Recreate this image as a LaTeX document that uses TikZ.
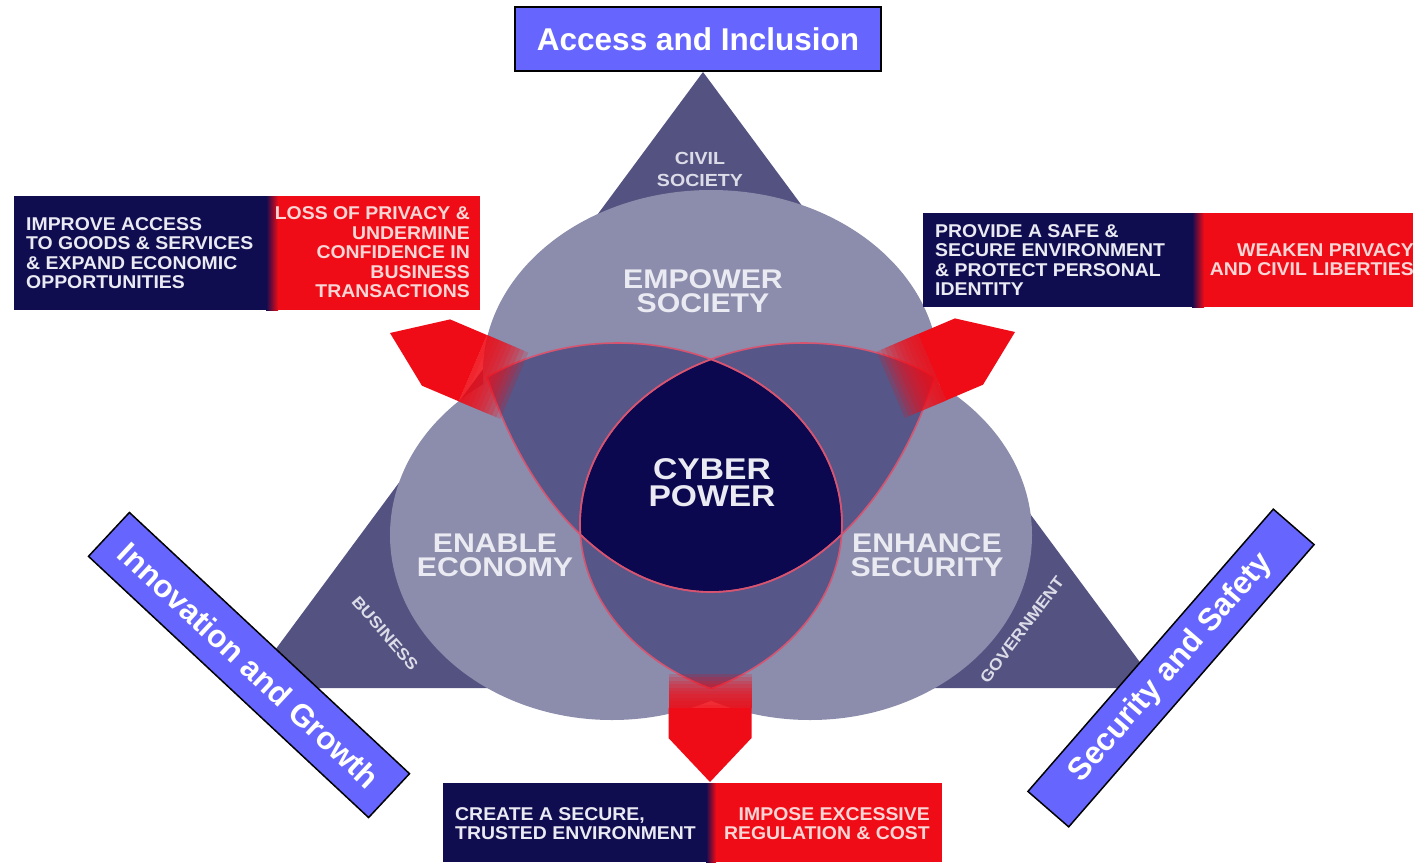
\documentclass[tikz,border=0pt]{standalone}
\usepackage{fontspec}
\setmainfont{Liberation Sans}
\newfontfamily\capsfont[FakeStretch=1.12]{Liberation Sans}
\newfontfamily\boxfont[FakeStretch=1.05]{Liberation Sans}
\usepackage{tikz}
\usetikzlibrary{positioning}

\definecolor{bannerblue}{RGB}{102,102,255}
\definecolor{boxnavy}{RGB}{16,12,80}
\definecolor{boxred}{RGB}{240,12,22}
\definecolor{lobegray}{RGB}{140,140,172}
\definecolor{triangleslate}{RGB}{84,82,128}
\definecolor{lensslate}{RGB}{86,86,136}
\definecolor{corenavy}{RGB}{12,8,80}
\definecolor{rimpink}{RGB}{214,84,112}
\definecolor{paletext}{RGB}{234,234,242}
\definecolor{pinktext}{RGB}{250,214,214}

% red pointer: tip x, tip y, angle, width, head, solid shaft, faded shaft
\newcommand\redpointer[7]{%
  \begin{scope}[shift={(#1,#2)}, rotate=#3]
    \fill[boxred] (0,0) -- (-#5,#4/2) -- (-#5-#6,#4/2) -- (-#5-#6,-#4/2) -- (-#5,-#4/2) -- cycle;
    \foreach \k in {1,...,10}{
      \fill[boxred, fill opacity=0.2] (-#5-#6,#4/2) rectangle ({-#5-#6-\k*#7/10},-#4/2);
    }
  \end{scope}}

\def\ellT{(711,195) ellipse [x radius=252, y radius=397]}
\def\ellL{(618,524) ellipse [x radius=224, y radius=181]}
\def\ellR{(804,524) ellipse [x radius=224, y radius=181]}

\begin{document}
\begin{tikzpicture}
          [x=1pt, y=-1pt,
           banner/.style={draw=black, line width=1.5pt, fill=bannerblue, text=white, inner sep=0pt,
                          font=\bfseries\fontsize{31.5}{36}\selectfont},
           lobelabel/.style={text=paletext, align=center, font=\capsfont\bfseries\fontsize{27}{24}\selectfont},
           smalllabel/.style={text=paletext!85!lobegray, align=center, inner sep=0pt,
                              font=\capsfont\bfseries\fontsize{16}{22}\selectfont},
           boxtext/.style={inner sep=0pt, font=\boxfont\bfseries\fontsize{18.5}{19.5}\selectfont},
           rim/.style={draw=rimpink, line width=1.6pt}]
          \useasboundingbox (0,0) rectangle (1413,865);
          \fill[white] (0,0) rectangle (1413,865);

          % triangle and lobes
          \fill[triangleslate] (703,72) -- (247,688) -- (1159,688) -- cycle;
          \fill[lobegray] (711,372) ellipse [x radius=228, y radius=182];
          \fill[lobegray] (612,535) ellipse [x radius=222, y radius=185];
          \fill[lobegray] (810,535) ellipse [x radius=222, y radius=185];

          % overlaps
          \begin{scope} \clip \ellT; \fill[lensslate] \ellL; \fill[lensslate] \ellR; \end{scope}
          \begin{scope} \clip \ellL; \fill[lensslate] \ellR; \end{scope}
          \begin{scope} \clip \ellT; \clip \ellL; \fill[corenavy] \ellR; \end{scope}
          \begin{scope} \clip \ellT; \draw[rim] \ellL \ellR; \end{scope}
          \begin{scope} \clip \ellL; \draw[rim] \ellT \ellR; \end{scope}
          \begin{scope} \clip \ellR; \draw[rim] \ellT \ellL; \end{scope}

          \redpointer{390}{333}{157}{72}{50}{40}{45}
          \redpointer{1015}{332}{23}{72}{50}{40}{45}
          \redpointer{710}{782}{-90}{83}{44}{30}{34}

          % boxes
          \fill[boxnavy] (14,196) rectangle (266,310);
          \shade[left color=boxnavy, right color=boxred] (266,196) rectangle (278,310);
          \fill[boxred] (278,196) rectangle (480,310);
          \fill[boxnavy] (923,213) rectangle (1192,307);
          \shade[left color=boxnavy, right color=boxred] (1192,213) rectangle (1204,307);
          \fill[boxred] (1204,213) rectangle (1413,307);
          \fill[boxnavy] (443,783) rectangle (706,862);
          \shade[left color=boxnavy, right color=boxred] (706,783) rectangle (716,862);
          \fill[boxred] (716,783) rectangle (942,862);

          \node (improve) [boxtext, text=paletext, align=left, anchor=west] at (26,253)
            {IMPROVE ACCESS\\TO GOODS \& SERVICES\\\& EXPAND ECONOMIC\\OPPORTUNITIES};
          \node (loss) [boxtext, text=pinktext, align=right, anchor=east] at (470,252.5)
            {LOSS OF PRIVACY \&\\UNDERMINE\\CONFIDENCE IN\\BUSINESS\\TRANSACTIONS};
          \node (provide) [boxtext, text=paletext, align=left, anchor=west] at (935,260)
            {PROVIDE A SAFE \&\\SECURE ENVIRONMENT\\\& PROTECT PERSONAL\\IDENTITY};
          \node (weaken) [boxtext, text=pinktext, align=right, anchor=east] at (1414,259.5)
            {WEAKEN PRIVACY\\AND CIVIL LIBERTIES};
          \node (create) [boxtext, text=paletext, align=left, anchor=west] at (455,823.5)
            {CREATE A SECURE,\\TRUSTED ENVIRONMENT};
          \node (impose) [boxtext, text=pinktext, align=right, anchor=east] at (930,823.5)
            {IMPOSE EXCESSIVE\\REGULATION \& COST};

          % labels
          \node (empower) [lobelabel] at (703,291) {EMPOWER\\SOCIETY};
          \node (enable) [lobelabel] at (495,555) {ENABLE\\ECONOMY};
          \node (enhance) [lobelabel] at (927,555) {ENHANCE\\SECURITY};
          \node (cyber) [lobelabel, font=\capsfont\bfseries\fontsize{30}{27}\selectfont] at (712,483) {CYBER\\POWER};
          \node (civil) [smalllabel, font=\capsfont\bfseries\fontsize{17.5}{22}\selectfont] at (700,169) {CIVIL\\SOCIETY};
          \node (business) [smalllabel, rotate=-49] at (385,633) {BUSINESS};
          \node (government) [smalllabel, rotate=53] at (1022,630) {GOVERNMENT};

          % banners
          \node (access) [banner, minimum width=366pt, minimum height=64pt] at (698,39) {Access and Inclusion};
          \node (innovation) [banner, rotate=-43, minimum width=383pt, minimum height=60pt] at (249,665) {Innovation and Growth};
          \node (security) [banner, rotate=49, minimum width=374pt, minimum height=54pt] at (1171,668) {Security and Safety};
        \end{tikzpicture}
\end{document}
